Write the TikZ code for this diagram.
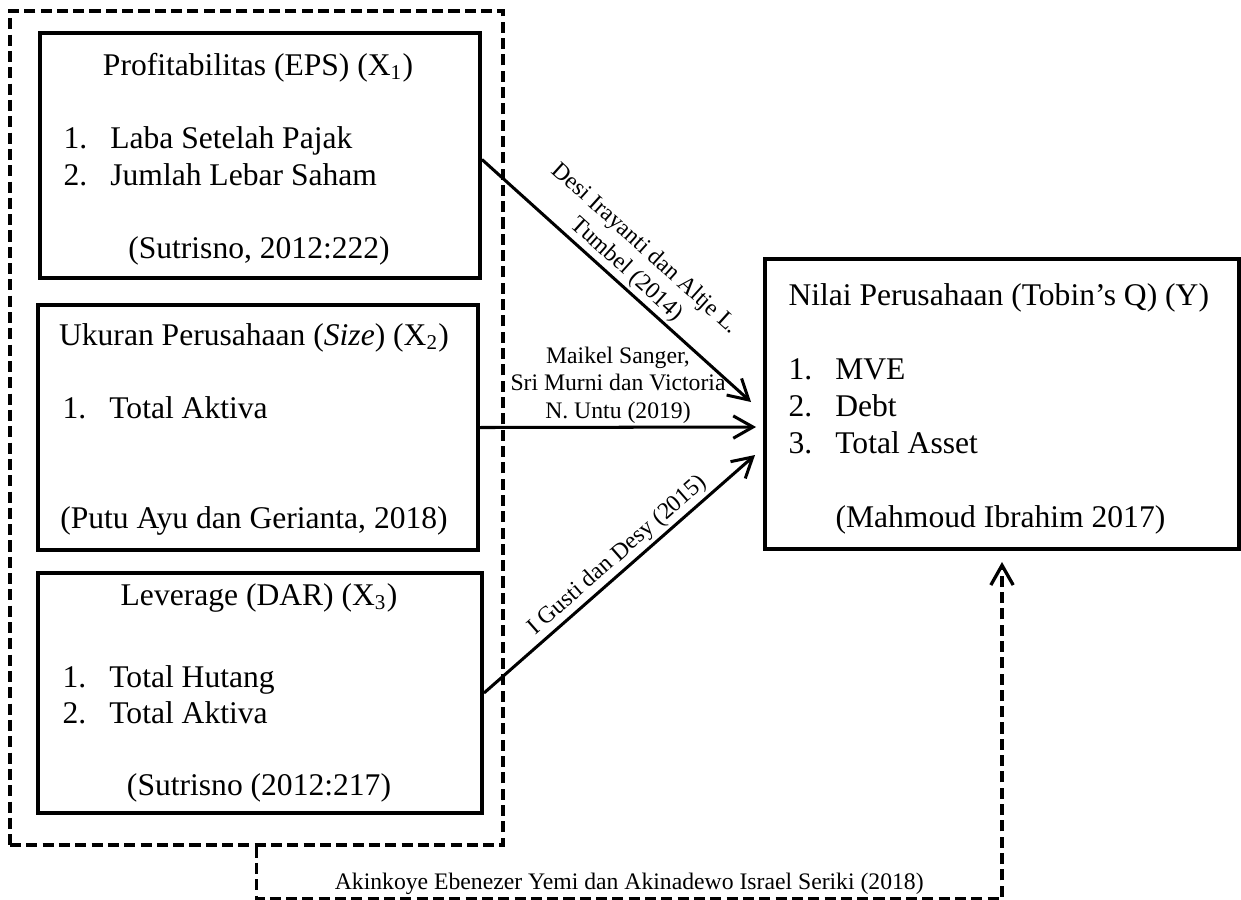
\documentclass[tikz,border=0pt]{standalone}
\usepackage{fontspec}
\setmainfont{Liberation Serif}
\usetikzlibrary{arrows.meta,calc,fit,positioning}

\newcommand{\itemline}[2]{\makebox[17.8pt][l]{#1}#2}

\begin{document}
\begin{tikzpicture}[
        x=0.38pt,
        y=-0.38pt,
        variable box/.style={draw,line width=1.5pt,inner sep=0pt},
        group box/.style={
            draw,line width=1.25pt,dash pattern=on 4.2pt off 2pt,inner sep=0pt
        },
        box text/.style={inner sep=0pt,font=\fontsize{12}{13.9}\selectfont},
        source label/.style={
            inner sep=1pt,align=center,font=\fontsize{9}{10.45}\selectfont
        },
        effect arrow/.style={
            line width=1.15pt,-{Straight Barb[length=7.5pt,width=8.5pt]}
        },
        joint arrow/.style={
            effect arrow,line width=1.25pt,dash pattern=on 4.2pt off 2pt
        }
    ]
        \useasboundingbox (0,0) rectangle (1241,899);

        % The three independent variables inside one dashed group.
        \node[group box,fit={(10,11) (503,845)}] (xgroup) {};
        \node[variable box,fit={(40,33) (480,278)}] (xone) {};
        \node[variable box,fit={(38,305) (478,550)}] (xtwo) {};
        \node[variable box,fit={(38,573) (482,813)}] (xthree) {};

        % The dependent variable.
        \node[variable box,fit={(765,259) (1239,549)}] (ybox) {};

        % Texts of the first box.
        \node[box text,anchor=base] (xonetitle) at (258,75)
            {Profitabilitas (EPS) (X\textsubscript{1})};
        \node[box text,anchor=base west] (xoneitema) at (63,148)
            {\itemline{1.}{Laba Setelah Pajak}};
        \node[box text,anchor=base west] (xoneitemb) at (63,185)
            {\itemline{2.}{Jumlah Lebar Saham}};
        \node[box text,anchor=base] (xonesource) at (259,258)
            {(Sutrisno, 2012:222)};

        % Texts of the second box.
        \node[box text,anchor=base] (xtwotitle) at (254,345)
            {Ukuran Perusahaan (\textit{Size}) (X\textsubscript{2})};
        \node[box text,anchor=base west] (xtwoitema) at (62,418)
            {\itemline{1.}{Total Aktiva}};
        \node[box text,anchor=base] (xtwosource) at (254,528)
            {(Putu Ayu dan Gerianta, 2018)};

        % Texts of the third box.
        \node[box text,anchor=base] (xthreetitle) at (259,605)
            {Leverage (DAR) (X\textsubscript{3})};
        \node[box text,anchor=base west] (xthreeitema) at (62,687)
            {\itemline{1.}{Total Hutang}};
        \node[box text,anchor=base west] (xthreeitemb) at (62,723)
            {\itemline{2.}{Total Aktiva}};
        \node[box text,anchor=base] (xthreesource) at (259,795)
            {(Sutrisno (2012:217)};

        % Texts of the dependent variable.
        \node[box text,anchor=base west] (ytitle) at (788,305)
            {Nilai Perusahaan (Tobin’s Q) (Y)};
        \node[box text,anchor=base west] (yitema) at (788,379)
            {\itemline{1.}{MVE}};
        \node[box text,anchor=base west] (yitemb) at (788,416)
            {\itemline{2.}{Debt}};
        \node[box text,anchor=base west] (yitemc) at (788,453)
            {\itemline{3.}{Total Asset}};
        \node[box text,anchor=base west] (ysource) at (835,527)
            {(Mahmoud Ibrahim 2017)};

        % Arrow ends stop short of the dependent box.
        \coordinate (xonestart) at ($(xone.east)+(0,4)$);
        \coordinate (tipone) at ($(ybox.west)+(-12,-2)$);
        \coordinate (tiptwo) at ($(ybox.west)+(-7,23)$);
        \coordinate (tipthree) at ($(ybox.west)+(-8,51)$);
        \coordinate (tipjoint) at ($(ybox.south)+(0,11)$);

        % Partial effects.
        \draw[effect arrow] (xonestart)
            -- node[source label,sloped,above,pos=0.5]
                {Desi Irayanti dan Altje L.\\Tumbel (2014)}
            (tipone);
        \draw[effect arrow] (xtwo.east)
            -- node[source label,above]
                {Maikel Sanger,\\Sri Murni dan Victoria\\N. Untu (2019)}
            (tiptwo);
        \draw[effect arrow] (xthree.east)
            -- node[source label,sloped,above,pos=0.53]
                {I Gusti dan Desy (2015)}
            (tipthree);

        % Joint effect of the group.
        \draw[joint arrow] (xgroup.south) -- ++(0,52)
            -| node[source label,above,pos=0.25]
                {Akinkoye Ebenezer Yemi dan Akinadewo Israel Seriki (2018)}
            (tipjoint);
    \end{tikzpicture}
\end{document}
